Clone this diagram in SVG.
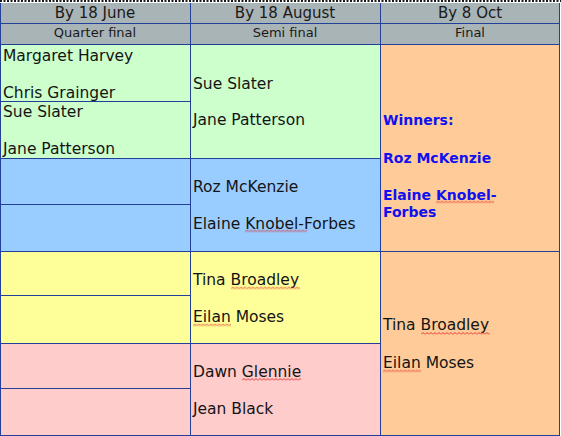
<svg xmlns="http://www.w3.org/2000/svg" width="561" height="436" viewBox="0 0 561 436">
<style>
.hd{font-family:"DejaVu Sans",Verdana,sans-serif;font-size:15px;fill:#1a1a1a;text-anchor:middle}
.sh{font-family:"DejaVu Sans",Verdana,sans-serif;font-size:13px;fill:#1a1a1a;text-anchor:middle}
.nm{font-family:"DejaVu Sans",Verdana,sans-serif;font-size:15.5px;fill:#141414}
.win{font-family:"DejaVu Sans",Verdana,sans-serif;font-size:14px;font-weight:bold;fill:#1010F0}
.ln{stroke:#22409a;stroke-width:1;fill:none}
.g{fill:#CCFFCC}.b{fill:#99CCFF}.y{fill:#FFFF99}.p{fill:#FFCCCC}.o{fill:#FFCC99}.h{fill:#A9B4B6}
</style>
<defs>
<pattern id="sq" width="4" height="3" patternUnits="userSpaceOnUse">
<path d="M0,2.5 L2,0.5 L4,2.5" stroke="#e02020" stroke-width="0.9" fill="none"/>
</pattern>
</defs>
<rect x="0" y="0" width="561" height="436" fill="#ffffff"/>
<line x1="0" y1="1" x2="561" y2="1" stroke="#1a1a1a" stroke-width="2" stroke-dasharray="2 1.5"/>
<g id="header">
<rect class="h" x="0" y="3" width="560" height="41"/>
<text class="hd" x="95" y="18">By 18 June</text>
<text class="hd" x="285" y="18">By 18 August</text>
<text class="hd" x="470" y="18">By 8 Oct</text>
<text class="sh" x="95" y="37">Quarter final</text>
<text class="sh" x="285" y="37">Semi final</text>
<text class="sh" x="470" y="37">Final</text>
</g>
<g id="qf1"><rect class="g" x="0" y="44" width="190" height="57"/>
<text class="nm" x="3" y="60.5">Margaret Harvey</text><text class="nm" x="3" y="97.5">Chris Grainger</text></g>
<g id="qf2"><rect class="g" x="0" y="101" width="190" height="57"/>
<text class="nm" x="3" y="117">Sue Slater</text><text class="nm" x="3" y="153.5">Jane Patterson</text></g>
<g id="qf3"><rect class="b" x="0" y="158" width="190" height="46"/></g>
<g id="qf4"><rect class="b" x="0" y="204" width="190" height="47"/></g>
<g id="qf5"><rect class="y" x="0" y="251" width="190" height="44"/></g>
<g id="qf6"><rect class="y" x="0" y="295" width="190" height="48.5"/></g>
<g id="qf7"><rect class="p" x="0" y="343.5" width="190" height="44.5"/></g>
<g id="qf8"><rect class="p" x="0" y="388" width="190" height="47"/></g>
<g id="sf1"><rect class="g" x="190" y="44" width="190" height="114"/>
<text class="nm" x="193" y="88.5">Sue Slater</text><text class="nm" x="193" y="125">Jane Patterson</text></g>
<g id="sf2"><rect class="b" x="190" y="158" width="190" height="93"/>
<text class="nm" x="193" y="192">Roz McKenzie</text><text class="nm" x="193" y="228.5">Elaine Knobel-Forbes</text></g>
<g id="sf3"><rect class="y" x="190" y="251" width="190" height="92.5"/>
<text class="nm" x="193" y="284.5">Tina Broadley</text><text class="nm" x="193" y="321.5">Eilan Moses</text></g>
<g id="sf4"><rect class="p" x="190" y="343.5" width="190" height="91.5"/>
<text class="nm" x="193" y="377">Dawn Glennie</text><text class="nm" x="193" y="413.5">Jean Black</text></g>
<g id="final1"><rect class="o" x="380" y="44" width="179" height="207"/>
<text class="win" x="383" y="125">Winners:</text>
<text class="win" x="383" y="162.5">Roz McKenzie</text>
<text class="win" x="383" y="199.5">Elaine Knobel-</text>
<text class="win" x="383" y="216.5">Forbes</text></g>
<g id="final2"><rect class="o" x="380" y="251" width="179" height="184"/>
<text class="nm" x="383" y="330">Tina Broadley</text><text class="nm" x="383" y="367.5">Eilan Moses</text></g>
<g id="spell">
<rect transform="translate(245,229.5)" width="62" height="3" fill="url(#sq)"/>
<rect transform="translate(436,200.5)" width="58" height="3" fill="url(#sq)"/>
<rect transform="translate(231,286.5)" width="69" height="3" fill="url(#sq)"/>
<rect transform="translate(193,323.5)" width="38" height="3" fill="url(#sq)"/>
<rect transform="translate(242,378)" width="59" height="3" fill="url(#sq)"/>
<rect transform="translate(421,332)" width="69" height="3" fill="url(#sq)"/>
<rect transform="translate(383,369.5)" width="38" height="3" fill="url(#sq)"/>
</g>
<g id="connectors">
<path class="ln" d="M0.5,3 V435.5 M190.5,3 V435.5 M380.5,3 V435.5 M559.5,3 V435.5"/>
<path class="ln" d="M0,23.5 H560 M0,44.5 H560 M0,101.5 H190 M0,158.5 H380 M0,204.5 H190 M0,251.5 H560 M0,295.5 H190 M0,343.5 H380 M0,388.5 H190 M0,435.5 H560"/>
</g>
</svg>
